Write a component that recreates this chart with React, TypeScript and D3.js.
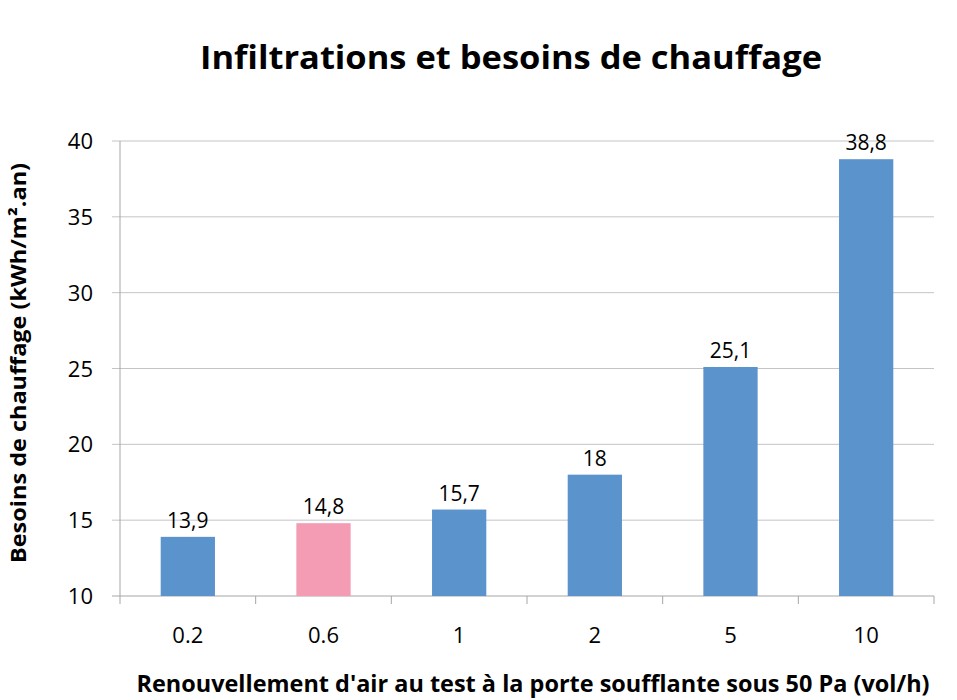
import { useMemo } from "react"
import * as d3 from "d3"

// Chart data
const categories = ["0.2", "0.6", "1", "2", "5", "10"]
const values = [13.9, 14.8, 15.7, 18, 25.1, 38.8]
const highlighted = ["0.6"]
const yTicks = [10, 15, 20, 25, 30, 35, 40]

const title = "Infiltrations et besoins de chauffage"
const xTitle = "Renouvellement d'air au test à la porte soufflante sous 50 Pa (vol/h)"
const yTitle = "Besoins de chauffage (kWh/m².an)"

export default function App() {
  const width = 957
  const height = 700
  const margin = { top: 141, right: 23, bottom: 104, left: 120 }
  const innerBottom = height - margin.bottom
  const innerRight = width - margin.right

  const { x, y } = useMemo(() => {
    const x = d3
      .scaleBand<string>()
      .domain(categories)
      .range([margin.left, innerRight])
      .paddingInner(0.6)
      .paddingOuter(0.3)
    const y = d3.scaleLinear().domain([10, 40]).range([innerBottom, margin.top])
    return { x, y }
  }, [])

  const step = x.step()
  const font = "'Open Sans', 'DejaVu Sans', sans-serif"
  const fmt = (v: number) => String(v).replace(".", ",")

  return (
    <svg
      width={width}
      height={height}
      style={{ position: "absolute", left: 0, top: 0, background: "#fff" }}
      fontFamily={font}
    >
      {/* Title */}
      <text
        x={511}
        y={69}
        textAnchor="middle"
        fontSize={33}
        fontWeight="bold"
        fill="#000"
        textLength={622}
        lengthAdjust="spacingAndGlyphs"
      >
        {title}
      </text>

      {/* Gridlines + y ticks */}
      {yTicks.map((t) => (
        <g key={t}>
          <line
            x1={margin.left - 8}
            x2={innerRight}
            y1={y(t)}
            y2={y(t)}
            stroke={t === 10 ? "#a6a6a6" : "#c4c4c4"}
            strokeWidth={1}
          />
          <text x={93} y={y(t) + 8} textAnchor="end" fontSize={22} fill="#000">
            {t}
          </text>
        </g>
      ))}

      {/* Y axis line */}
      <line x1={margin.left} x2={margin.left} y1={margin.top} y2={innerBottom} stroke="#a6a6a6" />

      {/* X tick marks */}
      {d3.range(categories.length + 1).map((i) => (
        <line
          key={i}
          x1={margin.left + i * step}
          x2={margin.left + i * step}
          y1={innerBottom}
          y2={innerBottom + 8}
          stroke="#a6a6a6"
        />
      ))}

      {/* Bars */}
      {categories.map((c, i) => (
        <g key={c}>
          <rect
            x={x(c)}
            y={y(values[i])}
            width={x.bandwidth()}
            height={innerBottom - y(values[i])}
            fill={highlighted.includes(c) ? "#f49cb3" : "#5b93cc"}
          />
          <text
            x={(x(c) as number) + x.bandwidth() / 2}
            y={y(values[i]) - 9}
            textAnchor="middle"
            fontSize={21}
            fill="#000"
          >
            {fmt(values[i])}
          </text>
          <text
            x={(x(c) as number) + x.bandwidth() / 2}
            y={643}
            textAnchor="middle"
            fontSize={22}
            fill="#000"
          >
            {c}
          </text>
        </g>
      ))}

      {/* X axis title */}
      <text
        x={533}
        y={692}
        textAnchor="middle"
        fontSize={23}
        fontWeight="bold"
        fill="#000"
        textLength={793}
        lengthAdjust="spacingAndGlyphs"
      >
        {xTitle}
      </text>

      {/* Y axis title */}
      <text
        transform="translate(26, 363) rotate(-90)"
        textAnchor="middle"
        fontSize={21}
        fontWeight="bold"
        fill="#000"
        textLength={400}
        lengthAdjust="spacingAndGlyphs"
      >
        {yTitle}
      </text>
    </svg>
  )
}
